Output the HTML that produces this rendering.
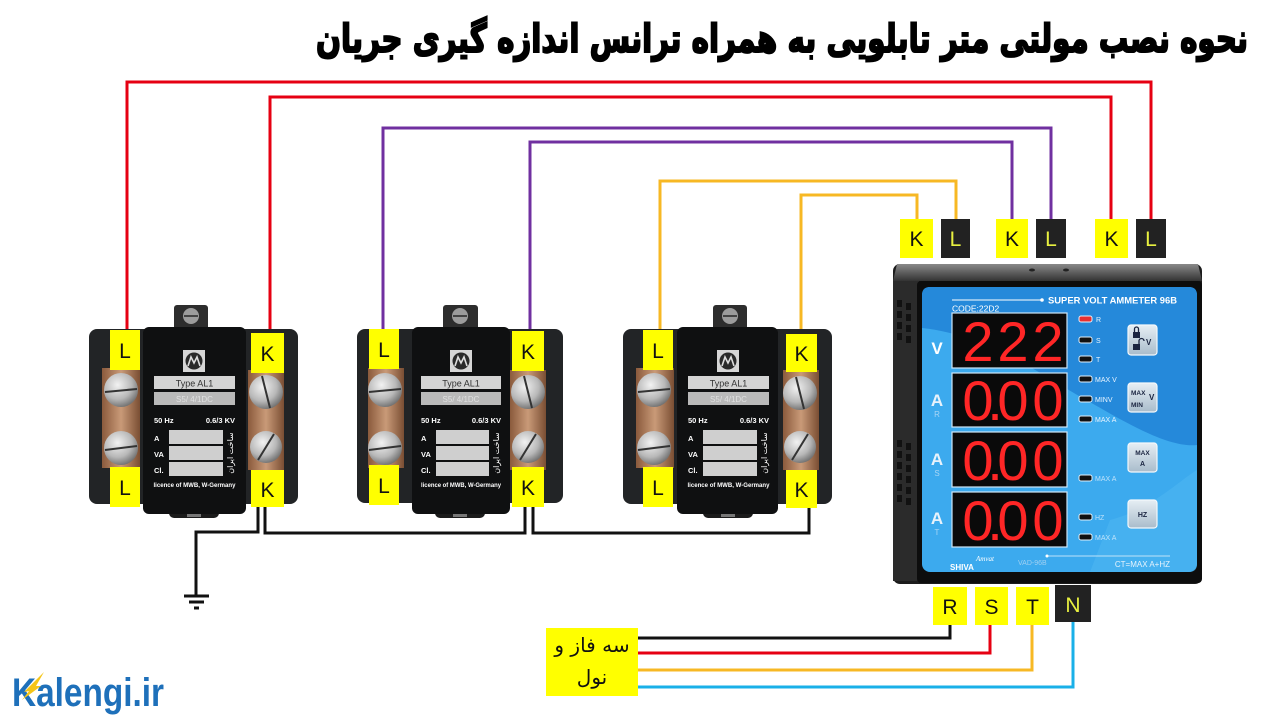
<!DOCTYPE html>
<html><head><meta charset="utf-8">
<style>
html,body{margin:0;padding:0;background:#fff;}
svg{display:block;}
.lb{font-family:"Liberation Sans","DejaVu Sans",sans-serif;font-size:21px;text-anchor:middle;}
.w{fill:none;stroke-width:3;stroke-linejoin:miter;}
.ct{font-family:"Liberation Sans",sans-serif;font-weight:bold;fill:#fff;}
.led{font-family:"Liberation Sans",sans-serif;font-size:7px;fill:#e8f4ff;}
.dig{font-family:"Liberation Sans","DejaVu Sans",sans-serif;font-size:56px;fill:#ff2626;text-anchor:middle;}
</style></head><body>
<svg width="1280" height="720" viewBox="0 0 1280 720" xmlns="http://www.w3.org/2000/svg">
<defs>
<linearGradient id="cu" x1="0" x2="1" y1="0" y2="0">
<stop offset="0" stop-color="#8a5a3c"/><stop offset="0.5" stop-color="#c99a78"/><stop offset="1" stop-color="#7a4e33"/>
</linearGradient>
<radialGradient id="scr" cx="0.4" cy="0.35" r="0.7">
<stop offset="0" stop-color="#f2f2f2"/><stop offset="0.6" stop-color="#b8b8b8"/><stop offset="1" stop-color="#6a6a6a"/>
</radialGradient>
<linearGradient id="topb" x1="0" x2="0" y1="0" y2="1">
<stop offset="0" stop-color="#8a8a8a"/><stop offset="1" stop-color="#333"/>
</linearGradient>
<linearGradient id="btn" x1="0" x2="0" y1="0" y2="1">
<stop offset="0" stop-color="#e6eef4"/><stop offset="1" stop-color="#a9bccb"/>
</linearGradient>
</defs>

<!-- Title -->
<text x="782" y="52" font-family="DejaVu Sans" font-weight="bold" font-size="39" fill="#000" stroke="#000" stroke-width="2" text-anchor="middle" textLength="932" lengthAdjust="spacingAndGlyphs" style="direction:rtl">نحوه نصب مولتی متر تابلویی به همراه ترانس اندازه گیری جریان</text>

<!-- Top wires -->
<polyline class="w" stroke="#e60012" points="127,332 127,82 1151,82 1151,221"/>
<polyline class="w" stroke="#e60012" points="270,335 270,97 1111,97 1111,221"/>
<polyline class="w" stroke="#7030a0" points="383,332 383,128 1051,128 1051,221"/>
<polyline class="w" stroke="#7030a0" points="530,333 530,142 1012,142 1012,221"/>
<polyline class="w" stroke="#f7b824" points="660,332 660,181 956,181 956,221"/>
<polyline class="w" stroke="#f7b824" points="801,336 801,195 917,195 917,221"/>

<!-- Top K/L labels -->
<rect x="900" y="219" width="33" height="39" fill="#ffff00"/><text class="lb" x="916.5" y="246" fill="#111">K</text>
<rect x="941" y="219" width="29" height="39" fill="#222"/><text class="lb" x="955.5" y="246" fill="#e8f040">L</text>
<rect x="996" y="219" width="32" height="39" fill="#ffff00"/><text class="lb" x="1012" y="246" fill="#111">K</text>
<rect x="1036" y="219" width="30" height="39" fill="#222"/><text class="lb" x="1051" y="246" fill="#e8f040">L</text>
<rect x="1095" y="219" width="33" height="39" fill="#ffff00"/><text class="lb" x="1111.5" y="246" fill="#111">K</text>
<rect x="1136" y="219" width="30" height="39" fill="#222"/><text class="lb" x="1151" y="246" fill="#e8f040">L</text>

<!-- Bottom black wires between CTs -->
<polyline class="w" stroke="#111" points="258,505 258,532 196,532 196,596"/>
<polyline class="w" stroke="#111" points="265,505 265,533 525,533 525,505"/>
<polyline class="w" stroke="#111" points="533,505 533,533 809,533 809,508"/>
<!-- ground -->
<line x1="184" y1="596" x2="209" y2="596" stroke="#111" stroke-width="3"/>
<line x1="189" y1="602" x2="204" y2="602" stroke="#111" stroke-width="3"/>
<line x1="194" y1="608" x2="199" y2="608" stroke="#111" stroke-width="3"/>

<!-- CT bodies -->
<g transform="translate(89,0)">
<rect x="85" y="305" width="34" height="28" rx="3" fill="#2d2d2d"/><circle cx="102" cy="316" r="8" fill="#9c9c9c"/><line x1="95" y1="316" x2="109" y2="316" stroke="#444" stroke-width="2"/>
<rect x="0" y="329" width="209" height="175" rx="8" fill="#222426"/>
<rect x="80" y="500" width="50" height="18" rx="5" fill="#1b1b1b"/><rect x="98" y="509" width="14" height="8" fill="#777"/>
<rect x="54" y="327" width="103" height="187" rx="6" fill="#0f1011"/>
<rect x="94" y="350" width="22" height="22" fill="#d6d6d6"/><circle cx="105" cy="361" r="8.5" fill="#2a2a2a"/><path d="M99 366 L102 357 L105 363 L108 357 L111 366" fill="none" stroke="#ddd" stroke-width="1.6"/>
<rect x="65" y="376" width="81" height="13" fill="#d4d4d4"/><text x="105.5" y="386.5" font-family="Liberation Sans" font-size="9" fill="#333" text-anchor="middle">Type AL1</text>
<rect x="65" y="392" width="81" height="13" fill="#b9b9b9"/><text x="105.5" y="402" font-family="Liberation Sans" font-size="8" fill="#e0e0e0" text-anchor="middle">S5/  4/1DC</text>
<text class="ct" x="65" y="423" font-size="7.5">50 Hz</text><text class="ct" x="146" y="423" font-size="7.5" text-anchor="end">0.6/3 KV</text>
<text class="ct" x="65" y="441" font-size="7.5">A</text><text class="ct" x="65" y="457" font-size="7.5">VA</text><text class="ct" x="65" y="473" font-size="7.5">Cl.</text>
<rect x="80" y="430" width="54" height="14" fill="#cfcfcf"/><rect x="80" y="446" width="54" height="14" fill="#cfcfcf"/><rect x="80" y="462" width="54" height="14" fill="#cfcfcf"/>
<text x="144" y="453" font-family="DejaVu Sans" font-size="8" fill="#fff" text-anchor="middle" transform="rotate(-90 144 453)">ساخت ایران</text>
<text class="ct" x="105.5" y="487" font-size="6.5" text-anchor="middle" textLength="82" lengthAdjust="spacingAndGlyphs">licence of MWB, W-Germany</text>
</g>
<g transform="translate(357,0)">
<rect x="86" y="305" width="35" height="28" rx="3" fill="#2d2d2d"/><circle cx="103" cy="316" r="8" fill="#9c9c9c"/><line x1="96" y1="316" x2="110" y2="316" stroke="#444" stroke-width="2"/>
<rect x="0" y="329" width="206" height="174" rx="8" fill="#222426"/>
<rect x="78" y="500" width="50" height="18" rx="5" fill="#1b1b1b"/><rect x="96" y="509" width="14" height="8" fill="#777"/>
<rect x="55" y="327" width="98" height="187" rx="6" fill="#0f1011"/>
<rect x="93" y="350" width="22" height="22" fill="#d6d6d6"/><circle cx="104" cy="361" r="8.5" fill="#2a2a2a"/><path d="M98 366 L101 357 L104 363 L107 357 L110 366" fill="none" stroke="#ddd" stroke-width="1.6"/>
<rect x="64" y="376" width="80" height="13" fill="#d4d4d4"/><text x="104" y="386.5" font-family="Liberation Sans" font-size="9" fill="#333" text-anchor="middle">Type AL1</text>
<rect x="64" y="392" width="80" height="13" fill="#b9b9b9"/><text x="104" y="402" font-family="Liberation Sans" font-size="8" fill="#e0e0e0" text-anchor="middle">S5/  4/1DC</text>
<text class="ct" x="64" y="423" font-size="7.5">50 Hz</text><text class="ct" x="144" y="423" font-size="7.5" text-anchor="end">0.6/3 KV</text>
<text class="ct" x="64" y="441" font-size="7.5">A</text><text class="ct" x="64" y="457" font-size="7.5">VA</text><text class="ct" x="64" y="473" font-size="7.5">Cl.</text>
<rect x="79" y="430" width="53" height="14" fill="#cfcfcf"/><rect x="79" y="446" width="53" height="14" fill="#cfcfcf"/><rect x="79" y="462" width="53" height="14" fill="#cfcfcf"/>
<text x="142" y="453" font-family="DejaVu Sans" font-size="8" fill="#fff" text-anchor="middle" transform="rotate(-90 142 453)">ساخت ایران</text>
<text class="ct" x="104" y="487" font-size="6.5" text-anchor="middle" textLength="80" lengthAdjust="spacingAndGlyphs">licence of MWB, W-Germany</text>
</g>
<g transform="translate(623,0)">
<rect x="90" y="305" width="34" height="28" rx="3" fill="#2d2d2d"/><circle cx="107" cy="316" r="8" fill="#9c9c9c"/><line x1="100" y1="316" x2="114" y2="316" stroke="#444" stroke-width="2"/>
<rect x="0" y="329" width="209" height="175" rx="8" fill="#222426"/>
<rect x="80" y="500" width="50" height="18" rx="5" fill="#1b1b1b"/><rect x="98" y="509" width="14" height="8" fill="#777"/>
<rect x="54" y="327" width="101" height="187" rx="6" fill="#0f1011"/>
<rect x="94" y="350" width="22" height="22" fill="#d6d6d6"/><circle cx="105" cy="361" r="8.5" fill="#2a2a2a"/><path d="M99 366 L102 357 L105 363 L108 357 L111 366" fill="none" stroke="#ddd" stroke-width="1.6"/>
<rect x="65" y="376" width="81" height="13" fill="#d4d4d4"/><text x="105.5" y="386.5" font-family="Liberation Sans" font-size="9" fill="#333" text-anchor="middle">Type AL1</text>
<rect x="65" y="392" width="81" height="13" fill="#b9b9b9"/><text x="105.5" y="402" font-family="Liberation Sans" font-size="8" fill="#e0e0e0" text-anchor="middle">S5/  4/1DC</text>
<text class="ct" x="65" y="423" font-size="7.5">50 Hz</text><text class="ct" x="146" y="423" font-size="7.5" text-anchor="end">0.6/3 KV</text>
<text class="ct" x="65" y="441" font-size="7.5">A</text><text class="ct" x="65" y="457" font-size="7.5">VA</text><text class="ct" x="65" y="473" font-size="7.5">Cl.</text>
<rect x="80" y="430" width="54" height="14" fill="#cfcfcf"/><rect x="80" y="446" width="54" height="14" fill="#cfcfcf"/><rect x="80" y="462" width="54" height="14" fill="#cfcfcf"/>
<text x="144" y="453" font-family="DejaVu Sans" font-size="8" fill="#fff" text-anchor="middle" transform="rotate(-90 144 453)">ساخت ایران</text>
<text class="ct" x="105.5" y="487" font-size="6.5" text-anchor="middle" textLength="82" lengthAdjust="spacingAndGlyphs">licence of MWB, W-Germany</text>
</g>

<!-- CT terminal strips, screws and labels -->
<!-- CT1 -->
<rect x="102" y="368" width="38" height="100" fill="url(#cu)"/><rect x="248" y="370" width="36" height="100" fill="url(#cu)"/>
<circle cx="121" cy="390" r="17" fill="url(#scr)"/><line x1="105" y1="392" x2="137" y2="389" stroke="#333" stroke-width="2"/>
<circle cx="121" cy="448" r="17" fill="url(#scr)"/><line x1="105" y1="450" x2="137" y2="446" stroke="#333" stroke-width="2"/>
<circle cx="266" cy="392" r="17" fill="url(#scr)"/><line x1="262" y1="376" x2="270" y2="408" stroke="#333" stroke-width="2"/>
<circle cx="266" cy="447" r="16" fill="url(#scr)"/><line x1="258" y1="460" x2="274" y2="434" stroke="#333" stroke-width="2"/>
<rect x="110" y="330" width="30" height="40" fill="#ffff00"/><text class="lb" x="125" y="358" fill="#111">L</text>
<rect x="251" y="333" width="33" height="40" fill="#ffff00"/><text class="lb" x="267.5" y="361" fill="#111">K</text>
<rect x="110" y="467" width="30" height="40" fill="#ffff00"/><text class="lb" x="125" y="495" fill="#111">L</text>
<rect x="251" y="470" width="33" height="37" fill="#ffff00"/><text class="lb" x="267.5" y="497" fill="#111">K</text>
<!-- CT2 -->
<rect x="368" y="368" width="36" height="100" fill="url(#cu)"/><rect x="510" y="370" width="36" height="100" fill="url(#cu)"/>
<circle cx="385" cy="390" r="17" fill="url(#scr)"/><line x1="369" y1="392" x2="401" y2="389" stroke="#333" stroke-width="2"/>
<circle cx="385" cy="448" r="17" fill="url(#scr)"/><line x1="369" y1="450" x2="401" y2="446" stroke="#333" stroke-width="2"/>
<circle cx="528" cy="392" r="17" fill="url(#scr)"/><line x1="524" y1="376" x2="532" y2="408" stroke="#333" stroke-width="2"/>
<circle cx="528" cy="447" r="16" fill="url(#scr)"/><line x1="520" y1="460" x2="536" y2="434" stroke="#333" stroke-width="2"/>
<rect x="369" y="329" width="30" height="40" fill="#ffff00"/><text class="lb" x="384" y="357" fill="#111">L</text>
<rect x="512" y="331" width="32" height="40" fill="#ffff00"/><text class="lb" x="528" y="359" fill="#111">K</text>
<rect x="369" y="465" width="30" height="40" fill="#ffff00"/><text class="lb" x="384" y="493" fill="#111">L</text>
<rect x="512" y="467" width="32" height="40" fill="#ffff00"/><text class="lb" x="528" y="495" fill="#111">K</text>
<!-- CT3 -->
<rect x="636" y="368" width="38" height="100" fill="url(#cu)"/><rect x="783" y="370" width="36" height="100" fill="url(#cu)"/>
<circle cx="654" cy="390" r="17" fill="url(#scr)"/><line x1="638" y1="392" x2="670" y2="389" stroke="#333" stroke-width="2"/>
<circle cx="654" cy="448" r="17" fill="url(#scr)"/><line x1="638" y1="450" x2="670" y2="446" stroke="#333" stroke-width="2"/>
<circle cx="800" cy="393" r="17" fill="url(#scr)"/><line x1="796" y1="377" x2="804" y2="409" stroke="#333" stroke-width="2"/>
<circle cx="800" cy="447" r="16" fill="url(#scr)"/><line x1="792" y1="460" x2="808" y2="434" stroke="#333" stroke-width="2"/>
<rect x="643" y="330" width="30" height="40" fill="#ffff00"/><text class="lb" x="658" y="358" fill="#111">L</text>
<rect x="786" y="334" width="31" height="38" fill="#ffff00"/><text class="lb" x="801.5" y="361" fill="#111">K</text>
<rect x="643" y="467" width="30" height="40" fill="#ffff00"/><text class="lb" x="658" y="495" fill="#111">L</text>
<rect x="786" y="470" width="31" height="38" fill="#ffff00"/><text class="lb" x="801.5" y="497" fill="#111">K</text>

<!-- Meter -->
<rect x="893" y="264" width="309" height="320" rx="7" fill="#1c1c1c"/>
<path d="M897 264 H1198 L1202 281 H893 Z" fill="url(#topb)"/>
<ellipse cx="1032" cy="270" rx="3" ry="1.5" fill="#222"/><ellipse cx="1066" cy="270" rx="3" ry="1.5" fill="#222"/>
<rect x="893" y="281" width="26" height="300" fill="#2b2b2b"/>
<g fill="#111">
<rect x="897" y="300" width="5" height="7"/><rect x="906" y="303" width="5" height="7"/>
<rect x="897" y="311" width="5" height="7"/><rect x="906" y="314" width="5" height="7"/>
<rect x="897" y="322" width="5" height="7"/><rect x="906" y="325" width="5" height="7"/>
<rect x="897" y="333" width="5" height="7"/><rect x="906" y="336" width="5" height="7"/>
<rect x="897" y="440" width="5" height="7"/><rect x="906" y="443" width="5" height="7"/>
<rect x="897" y="451" width="5" height="7"/><rect x="906" y="454" width="5" height="7"/>
<rect x="897" y="462" width="5" height="7"/><rect x="906" y="465" width="5" height="7"/>
<rect x="897" y="473" width="5" height="7"/><rect x="906" y="476" width="5" height="7"/>
<rect x="897" y="484" width="5" height="7"/><rect x="906" y="487" width="5" height="7"/>
<rect x="897" y="495" width="5" height="7"/><rect x="906" y="498" width="5" height="7"/>
</g>
<rect x="917" y="281" width="285" height="302" rx="4" fill="#0d0d0d"/>
<rect x="922" y="287" width="275" height="285" rx="8" fill="#3caaee"/>
<path d="M930 287 H1189 Q1197 287 1197 295 V445 C1170 448 1130 425 1095 405 C1045 378 990 335 922 328 V295 Q922 287 930 287 Z" fill="#2589da"/>
<path d="M1110 520 C1150 510 1180 480 1197 470 V564 Q1197 572 1189 572 H1090 Z" fill="#4db6f2" opacity="0.6"/>

<line x1="952" y1="300" x2="1042" y2="300" stroke="#fff" stroke-width="1"/><circle cx="1042" cy="300" r="1.8" fill="#fff"/>
<text x="1048" y="303.5" font-family="Liberation Sans" font-weight="bold" font-size="9" fill="#fff" textLength="129" lengthAdjust="spacingAndGlyphs">SUPER VOLT AMMETER 96B</text>
<text x="952" y="311.5" font-family="Liberation Sans" font-size="8.5" fill="#fff">CODE:22D2</text>

<g stroke="#cde6f7" stroke-width="1.2" fill="#0a0a0a">
<rect x="952" y="313" width="115" height="55"/>
<rect x="952" y="373" width="115" height="54"/>
<rect x="952" y="432" width="115" height="55"/>
<rect x="952" y="492" width="115" height="55"/>
</g>
<g>
<text class="dig" x="978" y="361">2</text><text class="dig" x="1013" y="361">2</text><text class="dig" x="1048" y="361">2</text>
<text class="dig" x="978" y="420">0</text><text class="dig" x="995" y="420">.</text><text class="dig" x="1013" y="420">0</text><text class="dig" x="1048" y="420">0</text>
<text class="dig" x="978" y="480">0</text><text class="dig" x="995" y="480">.</text><text class="dig" x="1013" y="480">0</text><text class="dig" x="1048" y="480">0</text>
<text class="dig" x="978" y="540">0</text><text class="dig" x="995" y="540">.</text><text class="dig" x="1013" y="540">0</text><text class="dig" x="1048" y="540">0</text>
</g>

<g font-family="Liberation Sans" font-weight="bold" fill="#fff" text-anchor="middle">
<text x="937" y="354" font-size="17">V</text>
<text x="937" y="406" font-size="17" fill="#e8f2fb">A</text><text x="937" y="417" font-size="8" font-weight="normal" fill="#a9d6f5">R</text>
<text x="937" y="465" font-size="17" fill="#e8f2fb">A</text><text x="937" y="476" font-size="8" font-weight="normal" fill="#a9d6f5">S</text>
<text x="937" y="524" font-size="17" fill="#e8f2fb">A</text><text x="937" y="535" font-size="8" font-weight="normal" fill="#a9d6f5">T</text>
</g>

<g stroke="#e0f0fb" stroke-width="1" fill="#111">
<rect x="1079" y="316" width="13" height="6" rx="2" fill="#e83030"/>
<rect x="1079" y="337" width="13" height="6" rx="2"/>
<rect x="1079" y="356" width="13" height="6" rx="2"/>
<rect x="1079" y="376" width="13" height="6" rx="2"/>
<rect x="1079" y="396" width="13" height="6" rx="2"/>
<rect x="1079" y="416" width="13" height="6" rx="2"/>
<rect x="1079" y="475" width="13" height="6" rx="2"/>
<rect x="1079" y="514" width="13" height="6" rx="2"/>
<rect x="1079" y="534" width="13" height="6" rx="2"/>
</g>
<text class="led" x="1096" y="322">R</text>
<text class="led" x="1096" y="343">S</text>
<text class="led" x="1096" y="362">T</text>
<text class="led" x="1095" y="382">MAX  V</text>
<text class="led" x="1095" y="402">MINV</text>
<text class="led" x="1095" y="422">MAX  A</text>
<text class="led" x="1095" y="481" opacity="0.75">MAX  A</text>
<text class="led" x="1095" y="520" opacity="0.75">HZ</text>
<text class="led" x="1095" y="540" opacity="0.75">MAX  A</text>

<g stroke="#f4f8fb" stroke-width="1.2" fill="url(#btn)">
<rect x="1128" y="325" width="29" height="30" rx="3"/>
<rect x="1128" y="383" width="29" height="29" rx="3"/>
<rect x="1128" y="443" width="29" height="29" rx="3"/>
<rect x="1128" y="500" width="29" height="28" rx="3"/>
</g>
<rect x="1133" y="332" width="7" height="6" fill="#1a2440"/><path d="M1134.5 332 V329 A2 2 0 0 1 1138.5 329 V332" fill="none" stroke="#1a2440" stroke-width="1.3"/>
<rect x="1133" y="344" width="7" height="6" fill="#1a2440"/><path d="M1139 344 V341 A2.5 2.5 0 0 1 1144 341" fill="none" stroke="#1a2440" stroke-width="1.3"/>
<g font-family="Liberation Sans" font-weight="bold" fill="#1a2440">
<text x="1146" y="345" font-size="8">V</text>
<text x="1131" y="395" font-size="6.5">MAX</text><text x="1149" y="400" font-size="8">V</text><text x="1131" y="407" font-size="6.5">MIN</text>
<text x="1142.5" y="455" font-size="6.5" text-anchor="middle">MAX</text><text x="1142.5" y="466" font-size="7" text-anchor="middle">A</text>
<text x="1142.5" y="517" font-size="7" text-anchor="middle">HZ</text>
</g>

<text x="950" y="570" font-family="Liberation Sans" font-weight="bold" font-size="8" fill="#fff">SHIVA</text>
<text x="976" y="561" font-family="Liberation Serif" font-style="italic" font-size="7" fill="#fff">Amvat</text>
<text x="1018" y="565" font-family="Liberation Sans" font-size="7" fill="#9fd0f2">VAD-96B</text>
<line x1="1047" y1="556" x2="1170" y2="556" stroke="#e6f3fc" stroke-width="0.8"/><circle cx="1047" cy="556" r="1.5" fill="#fff"/>
<text x="1170" y="567" font-family="Liberation Sans" font-size="8" fill="#e6f3fc" text-anchor="end">CT=MAX A+HZ</text>

<!-- R S T N -->
<polyline class="w" stroke="#111" points="950,624 950,638 638,638"/>
<polyline class="w" stroke="#e60012" points="990,624 990,653 638,653"/>
<polyline class="w" stroke="#f7b824" points="1032,624 1032,670 638,670"/>
<polyline class="w" stroke="#1ab0e8" points="1073,621 1073,687 638,687"/>
<rect x="933" y="587" width="34" height="38" fill="#ffff00"/><text class="lb" x="950" y="614" fill="#111">R</text>
<rect x="975" y="587" width="33" height="38" fill="#ffff00"/><text class="lb" x="991.5" y="614" fill="#111">S</text>
<rect x="1016" y="587" width="33" height="38" fill="#ffff00"/><text class="lb" x="1032.5" y="614" fill="#111">T</text>
<rect x="1055" y="585" width="36" height="37" fill="#222"/><text class="lb" x="1073" y="612" fill="#e8f040">N</text>

<rect x="546" y="628" width="92" height="68" fill="#ffff00"/>
<text x="592" y="652" font-family="DejaVu Sans" font-size="20" fill="#111" text-anchor="middle" style="direction:rtl">سه فاز و</text>
<text x="592" y="684" font-family="DejaVu Sans" font-size="20" fill="#111" text-anchor="middle" style="direction:rtl">نول</text>

<!-- Logo -->
<text x="12" y="706" font-family="Liberation Sans" font-weight="bold" font-size="40" fill="#1e70ba" textLength="152" lengthAdjust="spacingAndGlyphs">Kalengi.ir</text>
<polygon points="24,692 44,672 36,686 41,686 22,700 29,691" fill="#f5c518"/>
</svg>
</body></html>
